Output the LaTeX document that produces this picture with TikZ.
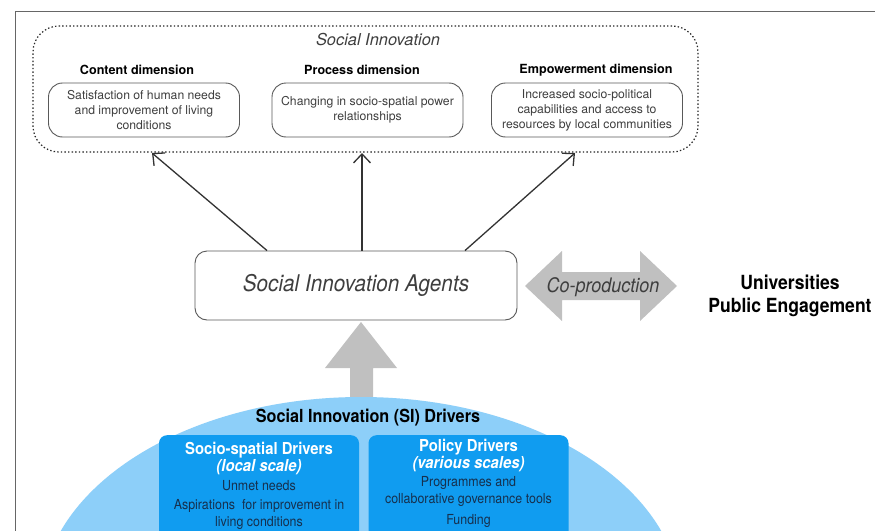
\documentclass[tikz,border=0pt]{standalone}
\usepackage{fontspec}
\setmainfont{TeX Gyre Heros}
\newfontfamily\condfont[FakeStretch=0.9]{TeX Gyre Heros}
\usetikzlibrary{calc,arrows.meta}
\definecolor{skyblue}{RGB}{141,207,249}
\definecolor{drvblue}{RGB}{16,156,240}
\definecolor{arrgray}{RGB}{192,192,192}
\definecolor{txtgray}{RGB}{62,62,62}
\definecolor{navytxt}{RGB}{22,48,78}

\begin{document}
\begin{tikzpicture} [x=1pt,y=1pt,
  sibox/.style=
  {rectangle,rounded corners=26pt,draw=black!85,line width=1.2pt,
    dash pattern=on 1.4pt off 2.2pt,minimum width=665pt,minimum height=126pt},
  dimbox/.style=
  {rectangle,rounded corners=14pt,draw=black!65,line width=0.9pt,
    minimum width=191pt,minimum height=54pt,align=center,text=txtgray,
    font=\fontsize{12.2}{15}\selectfont},
  dimhead/.style={font=\bfseries\fontsize{12.6}{14}\selectfont},
  agentbox/.style=
  {rectangle,rounded corners=12pt,draw=black!65,line width=0.9pt,
    minimum width=322pt,minimum height=69pt,text=txtgray,
    font=\itshape\condfont\fontsize{23}{26}\selectfont},
  drvbox/.style=
  {rectangle,rounded corners=8pt,fill=drvblue,minimum width=200pt,minimum height=120pt},
  drvtext/.style={anchor=north,align=center,text=navytxt,
    font=\condfont\fontsize{13.8}{16.5}\selectfont},
  upline/.style={-{Straight Barb[length=9pt,width=17pt]},line width=1.3pt,black!80}]
\useasboundingbox (0,0) rectangle (875,-530);
\clip (0,0) rectangle (875,-530);
\fill[white] (0,0) rectangle (875,-530);
\draw[black!60,line width=1pt] (15,-560) -- (15,-11) -- (900,-11);

% social innovation dimensions
\node [sibox] (si) at (365.5,-89) {};
\node [text=txtgray,font=\itshape\fontsize{16.4}{18}\selectfont] (sititle) at (378,-40) {Social Innovation};
\node [dimbox] (content) at (144,-110) {Satisfaction of human needs\\and improvement of living\\conditions};
\node [dimbox] (process) at (367.5,-110) {Changing in socio-spatial power\\relationships};
\node [dimbox] (empower) at (587,-110) {Increased socio-political\\capabilities and access to\\resources by local communities};
\node [dimhead] (contenthead) at (137,-70) {Content dimension};
\node [dimhead] (processhead) at (362,-70) {Process dimension};
\node [dimhead] (empowerhead) at (596,-70) {Empowerment dimension};

% agents
\node [agentbox] (agents) at (356,-285.5) {Social Innovation Agents};
\coordinate (tipC) at (152,-153);
\coordinate (tipP) at (362,-153);
\coordinate (tipE) at (575,-153);
\draw [upline] ($(agents.north)+(-89,0)$) -- (tipC);
\draw [upline] ($(agents.north)+(6,0)$) -- (tipP);
\draw [upline] ($(agents.north)+(109,0)$) -- (tipE);

% co-production
\fill [arrgray] (525,-286) -- (562,-251) -- (562,-272) -- (640,-272) -- (640,-251) -- (677,-286)
  -- (640,-321) -- (640,-300) -- (562,-300) -- (562,-321) -- cycle;
\node [text=txtgray,font=\itshape\condfont\fontsize{20}{22}\selectfont] (coprod) at (603,-287) {Co-production};
\node [align=center,font=\bfseries\condfont\fontsize{19.5}{23}\selectfont] (univ) at (790,-296) {Universities\\Public Engagement};

% drivers
\fill [arrgray] (361,-322) -- (397,-368) -- (373,-368) -- (373,-402) -- (350,-402) -- (350,-368) -- (325,-368) -- cycle;
\fill [skyblue] (361,-602) ellipse [x radius=320, y radius=205];
\node [font=\bfseries\condfont\fontsize{18}{20}\selectfont] (drivers) at (368,-418) {Social Innovation (SI) Drivers};
\node [drvbox,anchor=north] (socio) at (259,-435) {};
\node [drvbox,anchor=north] (policy) at (468.5,-435) {};
\node [drvtext] (sociotxt) at ($(socio.north)+(0,-4)$)
  {{\color{white}\bfseries\fontsize{16.5}{18}\selectfont Socio-spatial Drivers}\\
   {\color{white}\bfseries\itshape\fontsize{16.5}{18}\selectfont (local scale)}\\[2.5pt]
   Unmet needs\\[3pt]
   Aspirations~ for improvement in\\living conditions};
\node [drvtext] (policytxt) at ($(policy.north)+(0,-1)$)
  {{\color{white}\bfseries\fontsize{16.5}{18}\selectfont Policy Drivers}\\
   {\color{white}\bfseries\itshape\fontsize{16.5}{18}\selectfont (various scales)}\\[2pt]
   Programmes and\\collaborative governance tools\\[5pt]
   Funding};
\end{tikzpicture}
\end{document}
